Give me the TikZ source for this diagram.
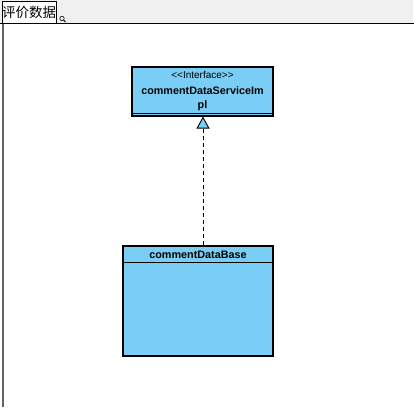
\documentclass[tikz,border=0pt]{standalone}
\usepackage{fontspec}
\setmainfont{Liberation Sans}
\newfontfamily\cjk{Noto Sans CJK SC}
\usetikzlibrary{arrows.meta}
\definecolor{boxblue}{RGB}{122,206,245}
\definecolor{barGray}{RGB}{240,240,240}
\definecolor{edgeGray}{RGB}{100,100,100}
\tikzset{
  classbox/.style={draw=black, line width=1.1pt, fill=boxblue, inner sep=0pt},
  stereo/.style={font=\fontsize{10}{12}\selectfont, inner sep=0pt},
  cname/.style={font=\fontsize{10.8}{12}\selectfont\bfseries, inner sep=0pt},
  realize/.style={draw=black, line width=0.8pt, dash pattern=on 4pt off 3pt,
    -{Triangle[open, fill=boxblue, length=12pt, width=13pt, line width=0.9pt]}}
}
\begin{document}
\begin{tikzpicture}[x=1pt,y=-1pt]
  \useasboundingbox (0,0) rectangle (414,407);
  \fill[white] (0,0) rectangle (414,407);
  % tab strip
  \fill[barGray] (0,0) rectangle (413,23);
  \draw[black, line width=1.2pt] (0,23.5) -- (414,23.5);
  \node[draw=black, line width=1pt, fill=white, minimum width=54pt, minimum height=22pt,
        inner sep=0pt, font=\cjk\fontsize{13.5}{15}\selectfont] (tab) at (29,12.5) {评价数据};
  % magnifier icon
  \coordinate (lens) at (62,18.5);
  \draw[black, line width=0.6pt] (lens) circle (2.2pt);
  \draw[black, line width=0.8pt] (63.7,20.2) -- (65.5,22);
  % left frame edge
  \draw[edgeGray, line width=2pt] (2.5,23.5) -- (2.5,407);

  % interface box
  \node[classbox, minimum width=141pt, minimum height=49pt] (iface) at (202.5,91.5) {};
  \draw[black, line width=1pt] (iface.west |- 0,113) -- (iface.east |- 0,113);
  \node[stereo] (ster) at (202.5,75) {{<}{<}Interface{>}{>}};
  \node[cname] (iname1) at (202.5,91) {commentDataServiceIm};
  \node[cname] (iname2) at (202.5,106) {pl};

  % implementing class
  \node[classbox, minimum width=150pt, minimum height=110pt] (impl) at (198,301) {};
  \draw[black, line width=1pt] (impl.west |- 0,262) -- (impl.east |- 0,262);
  \node[cname] (cname) at (198,255) {commentDataBase};

  % realization
  \draw[realize] (impl.north -| 203,0) -- (iface.south -| 203,0);
\end{tikzpicture}
\end{document}
